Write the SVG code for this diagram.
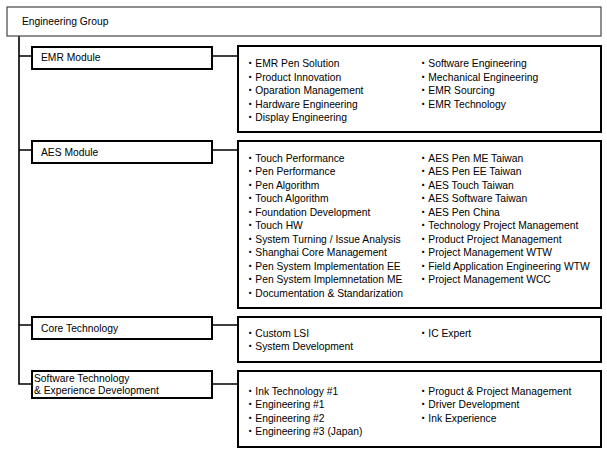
<svg xmlns="http://www.w3.org/2000/svg" width="607" height="455" viewBox="0 0 607 455">
<style>
text{font-family:"Liberation Sans","Noto Sans CJK JP",sans-serif;font-size:10.3px;fill:#000}
.top{fill:#fff;stroke:#444;stroke-width:1.2}
.mod{fill:#fff;stroke:#000;stroke-width:2}
.det{fill:#fff;stroke:#000;stroke-width:2}
.con{fill:none;stroke:#000;stroke-width:1.6}
</style>
<rect width="607" height="455" fill="#fff"/>
<g id="connectors">
<path class="con" d="M19,36 V384 H32 M19,56 H32 M19,150 H32 M19,325 H32 M212,56 H238 M212,150 H238 M212,325 H238 M212,384 H238"/>
</g>
<g id="engineering-group">
<rect class="top" x="7" y="7" width="594" height="29"/>
<text x="22" y="25">Engineering Group</text>
</g>
<g id="emr-module">
<rect class="mod" x="32" y="47" width="180" height="22"/>
<text x="41" y="61">EMR Module</text>
</g>
<g id="emr-detail">
<rect class="det" x="238" y="46" width="363" height="86"/>
<text x="245" y="67">・EMR Pen Solution</text>
<text x="245" y="80.5">・Product Innovation</text>
<text x="245" y="94">・Oparation Management</text>
<text x="245" y="107.5">・Hardware Engineering</text>
<text x="245" y="121">・Display Engineering</text>
<text x="418" y="67">・Software Engineering</text>
<text x="418" y="80.5">・Mechanical Engineering</text>
<text x="418" y="94">・EMR Sourcing</text>
<text x="418" y="107.5">・EMR Technology</text>
</g>
<g id="aes-module">
<rect class="mod" x="32" y="141" width="180" height="22"/>
<text x="41" y="156">AES Module</text>
</g>
<g id="aes-detail">
<rect class="det" x="238" y="141" width="363" height="167"/>
<text x="245" y="161.5">・Touch Performance</text>
<text x="245" y="175">・Pen Performance</text>
<text x="245" y="188.5">・Pen Algorithm</text>
<text x="245" y="202">・Touch Algorithm</text>
<text x="245" y="215.5">・Foundation Development</text>
<text x="245" y="229">・Touch HW</text>
<text x="245" y="242.5">・System Turning / Issue Analysis</text>
<text x="245" y="256">・Shanghai Core Management</text>
<text x="245" y="269.5">・Pen System Implementation EE</text>
<text x="245" y="283">・Pen System Implemnetation ME</text>
<text x="245" y="296.5">・Documentation &amp; Standarization</text>
<text x="418" y="161.5">・AES Pen ME Taiwan</text>
<text x="418" y="175">・AES Pen EE Taiwan</text>
<text x="418" y="188.5">・AES Touch Taiwan</text>
<text x="418" y="202">・AES Software Taiwan</text>
<text x="418" y="215.5">・AES Pen China</text>
<text x="418" y="229">・Technology Project Management</text>
<text x="418" y="242.5">・Product Project Management</text>
<text x="418" y="256">・Project Management WTW</text>
<text x="418" y="269.5">・Field Application Engineering WTW</text>
<text x="418" y="283">・Project Management WCC</text>
</g>
<g id="core-technology">
<rect class="mod" x="32" y="317" width="180" height="22"/>
<text x="41" y="332">Core Technology</text>
</g>
<g id="core-detail">
<rect class="det" x="238" y="317" width="363" height="45"/>
<text x="245" y="337">・Custom LSI</text>
<text x="245" y="350">・System Development</text>
<text x="418" y="337">・IC Expert</text>
</g>
<g id="software-technology">
<rect class="mod" x="32" y="371" width="180" height="27"/>
<text x="34" y="382">Software Technology</text>
<text x="34" y="394">&amp; Experience Development</text>
</g>
<g id="software-detail">
<rect class="det" x="238" y="371" width="363" height="76"/>
<text x="245" y="394.5">・Ink Technology #1</text>
<text x="245" y="408">・Engineering #1</text>
<text x="245" y="421.5">・Engineering #2</text>
<text x="245" y="435">・Engineering #3 (Japan)</text>
<text x="418" y="394.5">・Proguct &amp; Project Management</text>
<text x="418" y="408">・Driver Development</text>
<text x="418" y="421.5">・Ink Experience</text>
</g>
</svg>
